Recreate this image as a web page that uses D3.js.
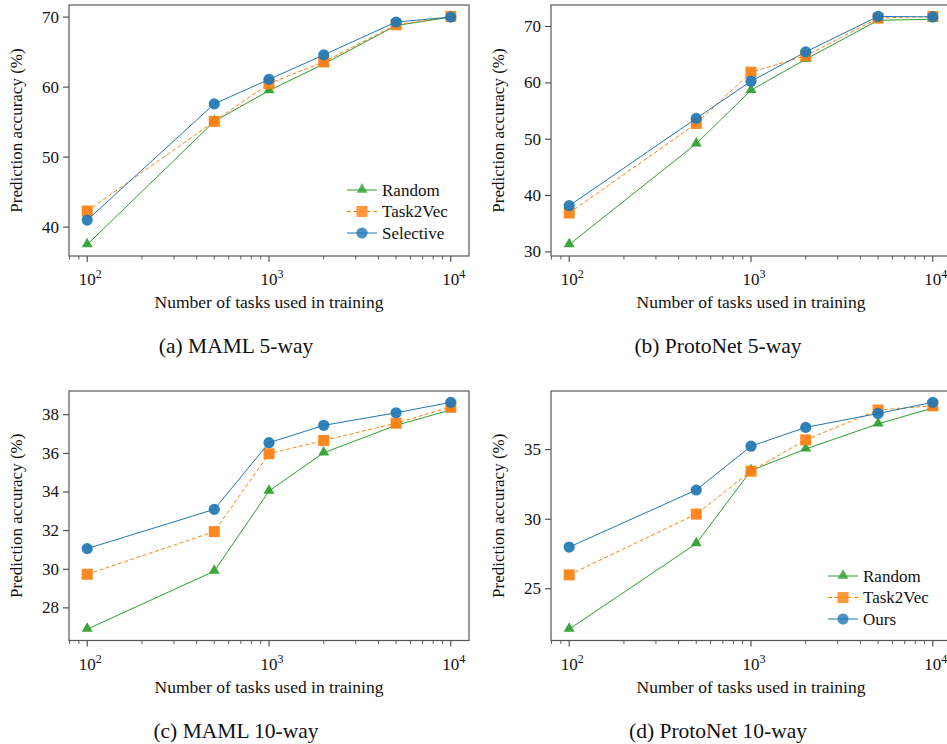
<!DOCTYPE html>
<html>
<head>
<meta charset="utf-8">
<script src="https://d3js.org/d3.v7.min.js"></script>
<style>
body { margin: 0; background: #fff; }
</style>
</head>
<body>
<div id="canvas"></div>
<script>

var width = 947;
var height = 744;

// number of tasks used in training (x values, shared by all panels)
var taskCounts = [100, 500, 1000, 2000, 5000, 10000];

// (a) MAML 5-way
var mamlFiveRandom    = [37.5, 55.1, 59.5, 63.3, 68.8, 70.0];
var mamlFiveTask2Vec  = [42.3, 55.1, 60.5, 63.6, 68.9, 70.1];
var mamlFiveSelective = [41.0, 57.6, 61.1, 64.6, 69.3, 70.0];
var mamlFiveTicks = [40, 50, 60, 70];

// (b) ProtoNet 5-way
var protoFiveRandom   = [31.3, 49.2, 58.7, 64.2, 71.1, 71.3];
var protoFiveTask2Vec = [36.9, 52.8, 61.9, 64.8, 71.5, 71.8];
var protoFiveOurs     = [38.2, 53.7, 60.3, 65.5, 71.8, 71.7];
var protoFiveTicks = [30, 40, 50, 60, 70];

// (c) MAML 10-way
var mamlTenRandom    = [26.9, 29.9, 34.05, 36.03, 37.45, 38.25];
var mamlTenTask2Vec  = [29.74, 31.95, 35.98, 36.67, 37.56, 38.4];
var mamlTenSelective = [31.07, 33.1, 36.55, 37.45, 38.1, 38.64];
var mamlTenTicks = [28, 30, 32, 34, 36, 38];

// (d) ProtoNet 10-way
var protoTenRandom   = [22.1, 28.25, 33.5, 35.05, 36.85, 38.0];
var protoTenTask2Vec = [26.0, 30.37, 33.45, 35.7, 37.85, 38.15];
var protoTenOurs     = [28.0, 32.1, 35.25, 36.6, 37.6, 38.4];
var protoTenTicks = [25, 30, 35];

var xTickPowers = [2, 3, 4];

var green = "#2ca02c", orange = "#ff7f0e", blue = "#1f77b4";
var serif = "'Liberation Serif', 'Times New Roman', Times, serif";

var svg = d3.select("#canvas").append("svg")
    .attr("width", width).attr("height", height)
    .attr("font-family", serif)
    .style("font-family", serif);

var drawMarker = function(g, shape, color, x, y, opacity) {
    if (shape == "triangle") {
        g.append("path")
            .attr("d", d3.symbol().type(d3.symbolTriangle).size(52)())
            .attr("transform", "translate(" + x + "," + (y - 0.5) + ")")
            .attr("fill", color).attr("fill-opacity", opacity);
    } else if (shape == "square") {
        g.append("rect")
            .attr("x", x - 5.5).attr("y", y - 5.5)
            .attr("width", 11).attr("height", 11)
            .attr("fill", color).attr("fill-opacity", opacity);
    } else {
        g.append("circle")
            .attr("cx", x).attr("cy", y).attr("r", 5.6)
            .attr("fill", color).attr("fill-opacity", opacity);
    }
};

var drawPanel = function(p) {
    var g = svg.append("g");
    var left = p.left, top = p.top, w = 400, h = p.bottom - p.top;

    var x = d3.scaleLog().domain([Math.pow(10, 1.9), Math.pow(10, 4.1)])
        .range([left, left + w]);

    var all = [].concat.apply([], p.series.map(function(s) { return s.values; }));
    var lo = d3.min(all), hi = d3.max(all), pad = (hi - lo) * 0.05;
    var y = d3.scaleLinear().domain([lo - pad, hi + pad]).range([p.bottom, top]);

    // minor ticks on log axis
    var minor = [];
    for (var e = 1; e <= 4; e++) {
        for (var m = 2; m <= 9; m++) {
            var v = m * Math.pow(10, e);
            if (v > x.domain()[0] && v < x.domain()[1]) minor.push(v);
        }
    }
    g.selectAll(".minor").data(minor).enter().append("line")
        .attr("x1", function(d) { return x(d); }).attr("x2", function(d) { return x(d); })
        .attr("y1", p.bottom).attr("y2", p.bottom + 3.5)
        .attr("stroke", "#333").attr("stroke-width", 0.8);

    var major = xTickPowers.map(function(k) { return Math.pow(10, k); });
    g.selectAll(".xmajor").data(major).enter().append("line")
        .attr("x1", function(d) { return x(d); }).attr("x2", function(d) { return x(d); })
        .attr("y1", p.bottom).attr("y2", p.bottom + 6)
        .attr("stroke", "#333").attr("stroke-width", 1);
    var xl = g.selectAll(".xlab").data(xTickPowers).enter().append("text")
        .attr("x", function(d) { return x(Math.pow(10, d)) + 3; })
        .attr("y", p.bottom + 29)
        .attr("text-anchor", "middle")
        .attr("fill", "#111")
        .style("font-size", "17px");
    xl.append("tspan").text("10");
    xl.append("tspan").attr("dy", -7).style("font-size", "12px")
        .text(function(d) { return d; });

    g.selectAll(".ytick").data(p.ticks).enter().append("line")
        .attr("x1", left - 6).attr("x2", left)
        .attr("y1", function(d) { return y(d); }).attr("y2", function(d) { return y(d); })
        .attr("stroke", "#333").attr("stroke-width", 1);
    g.selectAll(".ylab").data(p.ticks).enter().append("text")
        .attr("x", left - 10)
        .attr("y", function(d) { return y(d) + 5.5; })
        .attr("text-anchor", "end")
        .attr("fill", "#111")
        .style("font-size", "17px")
        .text(function(d) { return d; });

    // lines and markers
    p.series.forEach(function(s) {
        var pts = taskCounts.map(function(t, i) { return [x(t), y(s.values[i])]; });
        g.append("path")
            .attr("d", d3.line()(pts))
            .attr("fill", "none")
            .attr("stroke", s.color).attr("stroke-width", 1)
            .attr("stroke-dasharray", s.dash ? "4,2.5" : null);
        pts.forEach(function(q) { drawMarker(g, s.shape, s.color, q[0], q[1], 0.92); });
    });

    // frame
    g.append("rect")
        .attr("x", left).attr("y", top).attr("width", w).attr("height", h)
        .attr("fill", "none").attr("stroke", "#555").attr("stroke-width", 1.2);

    g.append("text")
        .attr("x", left + w / 2).attr("y", p.bottom + 52)
        .attr("text-anchor", "middle")
        .attr("fill", "#111")
        .style("font-size", "17.5px")
        .text("Number of tasks used in training");

    g.append("text")
        .attr("transform", "translate(" + (left - 47) + "," + (top + h / 2) + ") rotate(-90)")
        .attr("text-anchor", "middle")
        .attr("fill", "#111")
        .style("font-size", "17px")
        .text("Prediction accuracy (%)");

    g.append("text")
        .attr("x", p.captionX).attr("y", p.bottom + 97)
        .attr("text-anchor", "middle")
        .attr("fill", "#111")
        .style("font-size", "21.5px")
        .text(p.caption);

    if (p.legend) {
        var lx = p.legend[0], ly = p.legend[1];
        p.series.forEach(function(s, i) {
            var yy = ly + i * 21.5;
            g.append("line")
                .attr("x1", lx).attr("x2", lx + 30)
                .attr("y1", yy).attr("y2", yy)
                .attr("stroke", s.color).attr("stroke-width", 1)
                .attr("stroke-dasharray", s.dash ? "4,2.5" : null);
            drawMarker(g, s.shape, s.color, lx + 15, yy, 0.8);
            g.append("text")
                .attr("x", lx + 35).attr("y", yy + 5.5)
                .attr("fill", "#111")
                .style("font-size", "17px")
                .text(s.name);
        });
    }
};

var makeSeries = function(r, t, o, lastName) {
    return [
        {name: "Random", values: r, color: green, shape: "triangle", dash: false},
        {name: "Task2Vec", values: t, color: orange, shape: "square", dash: true},
        {name: lastName, values: o, color: blue, shape: "circle", dash: false}
    ];
};

drawPanel({left: 69, top: 5, bottom: 256, ticks: mamlFiveTicks,
    series: makeSeries(mamlFiveRandom, mamlFiveTask2Vec, mamlFiveSelective, "Selective"),
    caption: "(a) MAML 5-way", captionX: 236, legend: [347, 190]});
drawPanel({left: 551, top: 5, bottom: 256, ticks: protoFiveTicks,
    series: makeSeries(protoFiveRandom, protoFiveTask2Vec, protoFiveOurs, "Ours"),
    caption: "(b) ProtoNet 5-way", captionX: 718, legend: null});
drawPanel({left: 69, top: 391, bottom: 640.5, ticks: mamlTenTicks,
    series: makeSeries(mamlTenRandom, mamlTenTask2Vec, mamlTenSelective, "Selective"),
    caption: "(c) MAML 10-way", captionX: 236, legend: null});
drawPanel({left: 551, top: 391, bottom: 640.5, ticks: protoTenTicks,
    series: makeSeries(protoTenRandom, protoTenTask2Vec, protoTenOurs, "Ours"),
    caption: "(d) ProtoNet 10-way", captionX: 718, legend: [828, 576]});

</script>
</body>
</html>
